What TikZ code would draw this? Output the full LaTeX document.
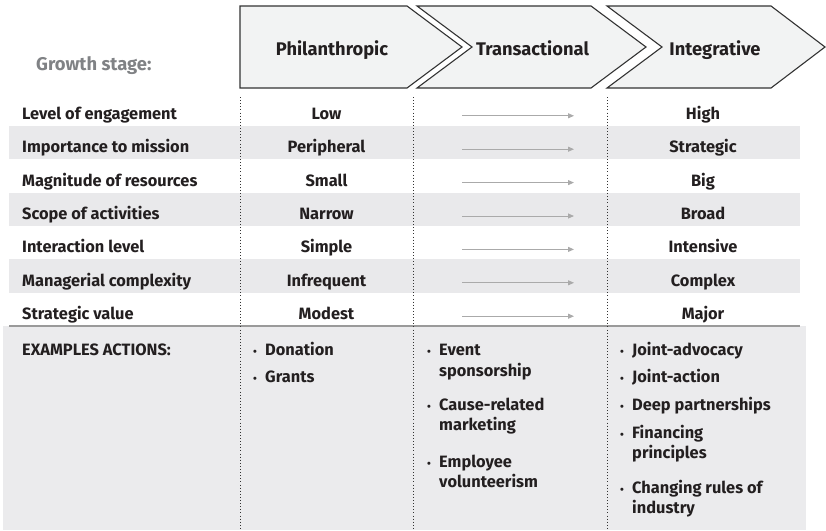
\documentclass[tikz,border=0pt]{standalone}
\usepackage{fontspec}
\setmainfont{Fira Sans}
\usetikzlibrary{arrows.meta}
\definecolor{txt}{HTML}{231F20}
\definecolor{chevfill}{HTML}{F2F3F3}
\definecolor{chevline}{HTML}{333333}
\definecolor{band}{HTML}{E9E9EB}
\definecolor{exfill}{HTML}{EBEBED}
\definecolor{arrowgray}{HTML}{AAAAAA}
\definecolor{rulegray}{HTML}{9A9A9A}
\definecolor{stagegray}{HTML}{808285}
\newcommand{\blt}{\makebox[12pt][l]{\fontsize{11}{11}\selectfont\textbullet}}
\tikzset{
  lab/.style={anchor=base west, inner sep=0, text=txt, font=\bfseries\fontsize{16.4}{19}\selectfont},
  val/.style={anchor=base, inner sep=0, text=txt, font=\bfseries\fontsize{16.4}{19}\selectfont},
  hdr/.style={anchor=base, inner sep=0, text=txt, font=\bfseries\fontsize{18.3}{21}\selectfont},
  stagebox/.style={draw=chevline, fill=chevfill, line width=1.1pt, line join=miter},
  divider/.style={draw=black!80, line width=0.9pt, dash pattern=on 0.9pt off 2.2pt},
  trend/.style={draw=arrowgray, line width=0.9pt, -{Triangle[length=6pt,width=5pt]}},
  bul/.style={anchor=base west, inner sep=0, text=txt, font=\bfseries\fontsize{16.4}{19}\selectfont}
}
\begin{document}
\begin{tikzpicture}[x=1pt,y=-1pt]
\useasboundingbox (0,0) rectangle (826,530);
% stage chevrons
\draw[stagebox] (240,6) -- (407,6) -- (462,47) -- (407,88) -- (240,88) -- cycle;
\draw[stagebox] (417,6) -- (591,6) -- (646,47) -- (591,88) -- (417,88) -- (472,47) -- cycle;
\draw[stagebox] (607,6) -- (771,6) -- (825,47) -- (771,88) -- (607,88) -- (662,47) -- cycle;
\node[hdr] (h1) at (332,55) {Philanthropic};
\node[hdr] (h2) at (532.5,55) {Transactional};
\node[hdr] (h3) at (715,55) {Integrative};
\node[anchor=base west, inner sep=0, text=stagegray, font=\bfseries\fontsize{18.4}{21}\selectfont] (gs) at (36,70) {Growth stage:};
% shaded bands
\foreach \i in {1,3,5} {
  \fill[band] (9,{92.3+33.4*\i}) rectangle (800,{92.3+33.4*(\i+1)});
}
% examples area
\fill[exfill] (3,326) rectangle (806,530);
\draw[rulegray, line width=1.8pt] (9,326) -- (800,326);
% dividers
\draw[divider] (240,97) -- (240,530);
\draw[divider] (413,97) -- (413,530);
\draw[divider] (607,97) -- (607,530);
% rows
\foreach \lab/\lo/\hi [count=\k from 0] in {Level of engagement/Low/High, Importance to mission/Peripheral/Strategic, Magnitude of resources/Small/Big, Scope of activities/Narrow/Broad, Interaction level/Simple/Intensive, Managerial complexity/Infrequent/Complex, Strategic value/Modest/Major} {
  \pgfmathsetmacro\yb{92.3+33.4*\k+27}
  \node[lab] (l\k) at (22,\yb) {\lab};
  \node[val] (lo\k) at (326.5,\yb) {\lo};
  \node[val] (hi\k) at (703,\yb) {\hi};
  \coordinate (as\k) at (462,\yb-3.5);
  \coordinate (ae\k) at (574,\yb-3.5);
  \draw[trend] (as\k) -- (ae\k);
}
% examples
\node[lab] (ex) at (22,355) {EXAMPLES ACTIONS:};
\node[bul] (p1) at (253,355) {\blt Donation};
\node[bul] (p2) at (253,382) {\blt Grants};
\node[bul] (t1) at (427,355) {\blt Event};
\node[bul] (t1b) at (439,376) {sponsorship};
\node[bul] (t2) at (427,410) {\blt Cause-related};
\node[bul] (t2b) at (439,430) {marketing};
\node[bul] (t3) at (427,467) {\blt Employee};
\node[bul] (t3b) at (439,487) {volunteerism};
\node[bul] (i1) at (620,355) {\blt Joint-advocacy};
\node[bul] (i2) at (620,382) {\blt Joint-action};
\node[bul] (i3) at (620,410) {\blt Deep partnerships};
\node[bul] (i4) at (620,438) {\blt Financing};
\node[bul] (i4b) at (632,458) {principles};
\node[bul] (i5) at (620,493) {\blt Changing rules of};
\node[bul] (i5b) at (632,513) {industry};
\end{tikzpicture}
\end{document}
